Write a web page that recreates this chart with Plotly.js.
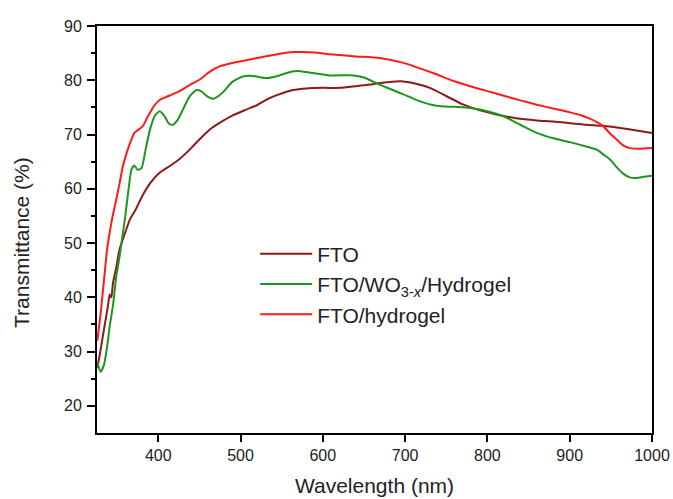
<!DOCTYPE html>
<html><head><meta charset="utf-8">
<script src="https://cdn.plot.ly/plotly-3.0.1.min.js"></script>
<style>html,body{margin:0;padding:0;background:#fff}#chart{width:673px;height:499px}</style>
</head><body><div id="chart"></div>
<script>
const ftoX = [326,329,334,339,341,343,345,349,353,360,366,372,380,390,402,415,426,440,450,465,475,490,507,520,531,545,564,580,600,621,640,657,670,694,712,730,750,771,790,811,835,860,880,900,920,941,970,1000];
const ftoY = [27,29.5,34,38.5,40.5,40,42.6,45.5,48.8,52,54.5,56,58.5,61,63,64.3,65.5,67.5,69.1,71.2,72.2,73.5,74.6,75.4,76.4,77.3,78.2,78.5,78.6,78.6,78.9,79.2,79.5,79.8,79.4,78.6,77.1,75.5,74.5,73.7,73.0,72.6,72.4,72.1,71.8,71.6,71.0,70.3];

const woX = [326,330,334,338,341,345,349,353,357,360,364,367.4,371,375,379.6,385,390,396,402,408,413,418,424,430,438,446.5,452,460,467,474,480,490,503,515,531,545,555,568,585,608,637,650,669,685,698,715,738,760,779,800,819,840,860,880,900,920,933,941,949,957,965,973,981,990,1000];
const woY = [28,26.3,27.5,31,34.6,38.5,43.8,47.5,51.8,55,60,63.5,64.3,63.5,63.8,67.5,70.9,73.5,74.3,73.3,72,71.8,72.8,74.6,77,78.2,78,77,76.6,77.2,78,79.7,80.7,80.8,80.4,80.8,81.3,81.7,81.4,80.9,80.9,80.5,79.2,78.2,77.4,76.3,75.3,75.1,74.9,74.3,73.4,71.8,70.3,69.3,68.6,67.8,67.2,66.3,65.4,64,62.8,62.1,62.0,62.2,62.4];

const hgX = [326,330,334,338,341,344,349,353,357,362,366,371,376,381,388,395,402,414,426,438,450,462,475,490,507,527,548,565,576,590,608,640,669,698,718,738,758,779,800,819,840,860,880,900,913,925,933,941,949,957,965,973,985,1000];
const hgY = [32,37,43,49,51.9,54.5,58,61,64.1,66.8,68.5,70.3,70.9,71.5,73.5,75.3,76.4,77.2,78,79.1,80.1,81.5,82.6,83.2,83.7,84.3,84.9,85.2,85.2,85.1,84.8,84.4,84.1,83.2,82.2,81.1,79.9,78.9,78.0,77.2,76.3,75.5,74.8,74.1,73.6,72.9,72.3,71.5,70.2,69.1,68.0,67.5,67.4,67.5];

const xTicks = [400,500,600,700,800,900,1000];
const yTicks = [20,30,40,50,60,70,80,90];
const yMinorTicks = [25,35,45,55,65,75,85];

const names = ['FTO', 'FTO/WO<sub>3-<i>x</i></sub>/Hydrogel', 'FTO/hydrogel'];
const colors = ['#8b1a1a', '#1e961e', '#ff1a1a'];
const xs = [ftoX, woX, hgX], ys = [ftoY, woY, hgY];

const data = xs.map((x, i) => ({
  x: x, y: ys[i], name: names[i], type: 'scatter', mode: 'lines',
  legendgroup: 'g' + i,
  line: {color: colors[i], width: 2, shape: 'spline', smoothing: 0.6}
}));

const font = 'Liberation Sans, Arial, sans-serif';
const txt = '#222';
const layout = {
  width: 673, height: 499,
  margin: {l: 97, r: 21, t: 26, b: 66},
  paper_bgcolor: '#fff', plot_bgcolor: '#fff',
  font: {family: font, color: txt},
  showlegend: true,
  legend: {x: 0.285, y: 0.49, xanchor: 'left', yanchor: 'top', bgcolor: 'rgba(0,0,0,0)',
           font: {size: 21, family: font, color: txt}, tracegroupgap: 0, itemwidth: 52},
  xaxis: {
    range: [325.6, 1000], tickvals: xTicks,
    showgrid: false, zeroline: false, showline: true, linecolor: '#000', linewidth: 2,
    mirror: true, ticks: 'outside', ticklen: 7, tickwidth: 2, tickcolor: '#000',
    tickfont: {size: 16, family: font, color: txt},
    title: {text: 'Wavelength (nm)', font: {size: 21, family: font, color: txt}, standoff: 15}
  },
  yaxis: {
    range: [15, 90], tickvals: yTicks,
    showgrid: false, zeroline: false, showline: true, linecolor: '#000', linewidth: 2,
    mirror: true, ticks: 'outside', ticklen: 8, tickwidth: 2, tickcolor: '#000',
    ticklabelstandoff: 2,
    minor: {tickvals: yMinorTicks, ticks: 'outside', ticklen: 4, tickwidth: 2, tickcolor: '#000', showgrid: false},
    tickfont: {size: 16, family: font, color: txt}
  },
  annotations: [{
    text: 'Transmittance (%)', textangle: -90, showarrow: false,
    xref: 'paper', yref: 'paper', x: -0.135, y: 0.467, xanchor: 'center', yanchor: 'middle',
    font: {size: 21, family: font, color: txt}
  }]
};
Plotly.newPlot('chart', data, layout, {displayModeBar: false, staticPlot: true});
</script></body></html>
